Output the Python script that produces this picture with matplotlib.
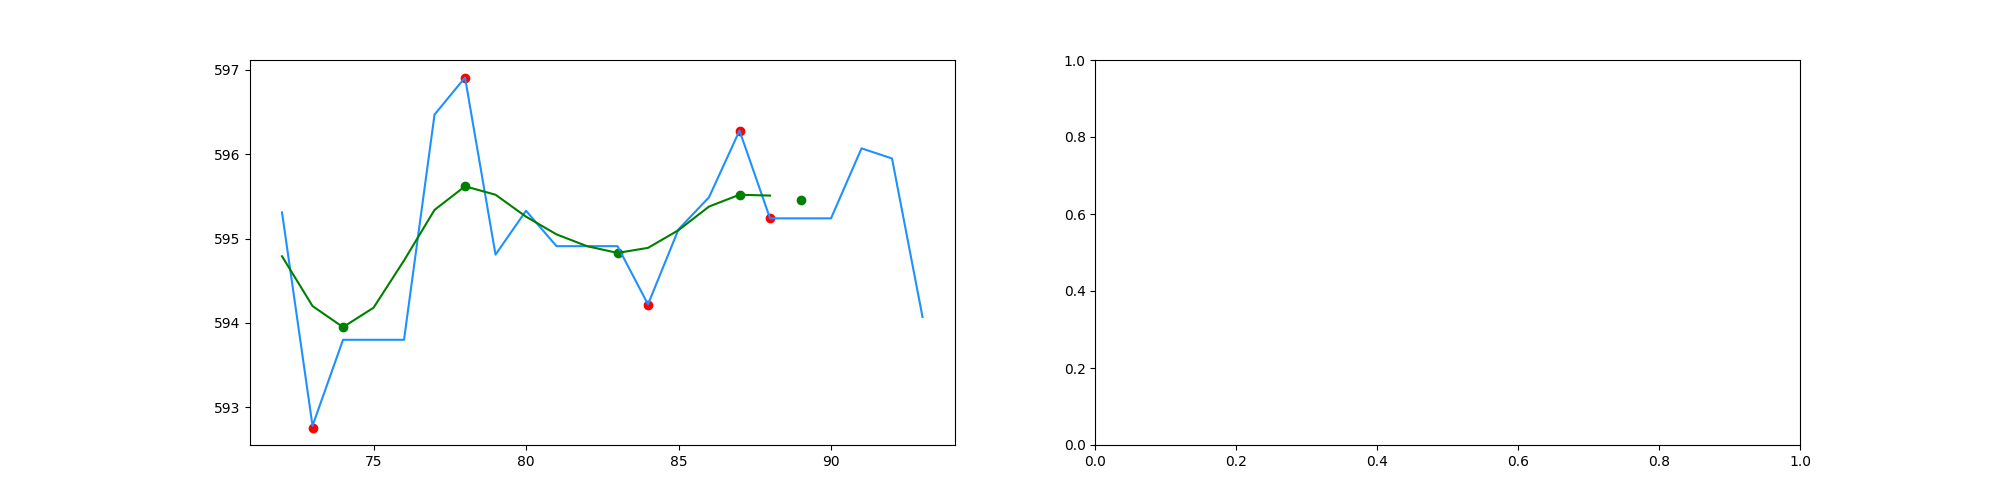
import matplotlib
matplotlib.use("Agg")
import matplotlib.pyplot as plt

x = list(range(72, 94))
price = [595.31, 592.78, 593.80, 593.80, 593.80, 596.47, 596.91, 594.81, 595.33,
         594.91, 594.91, 594.91, 594.22, 595.11, 595.49, 596.28, 595.24, 595.24,
         595.24, 596.07, 595.95, 594.07]

smooth_x = list(range(72, 89))
smooth = [594.79, 594.20, 593.95, 594.18, 594.74, 595.34, 595.62, 595.52, 595.26,
          595.05, 594.91, 594.83, 594.89, 595.10, 595.38, 595.52, 595.51]

red_x = [73, 78, 84, 87, 88]
red_y = [592.76, 596.91, 594.21, 596.28, 595.24]

green_x = [74, 78, 83, 87, 89]
green_y = [593.95, 595.62, 594.83, 595.52, 595.46]

fig, (ax1, ax2) = plt.subplots(1, 2, figsize=(20, 5), dpi=100)
ax1.plot(x, price, color="dodgerblue")
ax1.plot(smooth_x, smooth, color="green")
ax1.scatter(red_x, red_y, color="red")
ax1.scatter(green_x, green_y, color="green")

fig.savefig("out.png")
